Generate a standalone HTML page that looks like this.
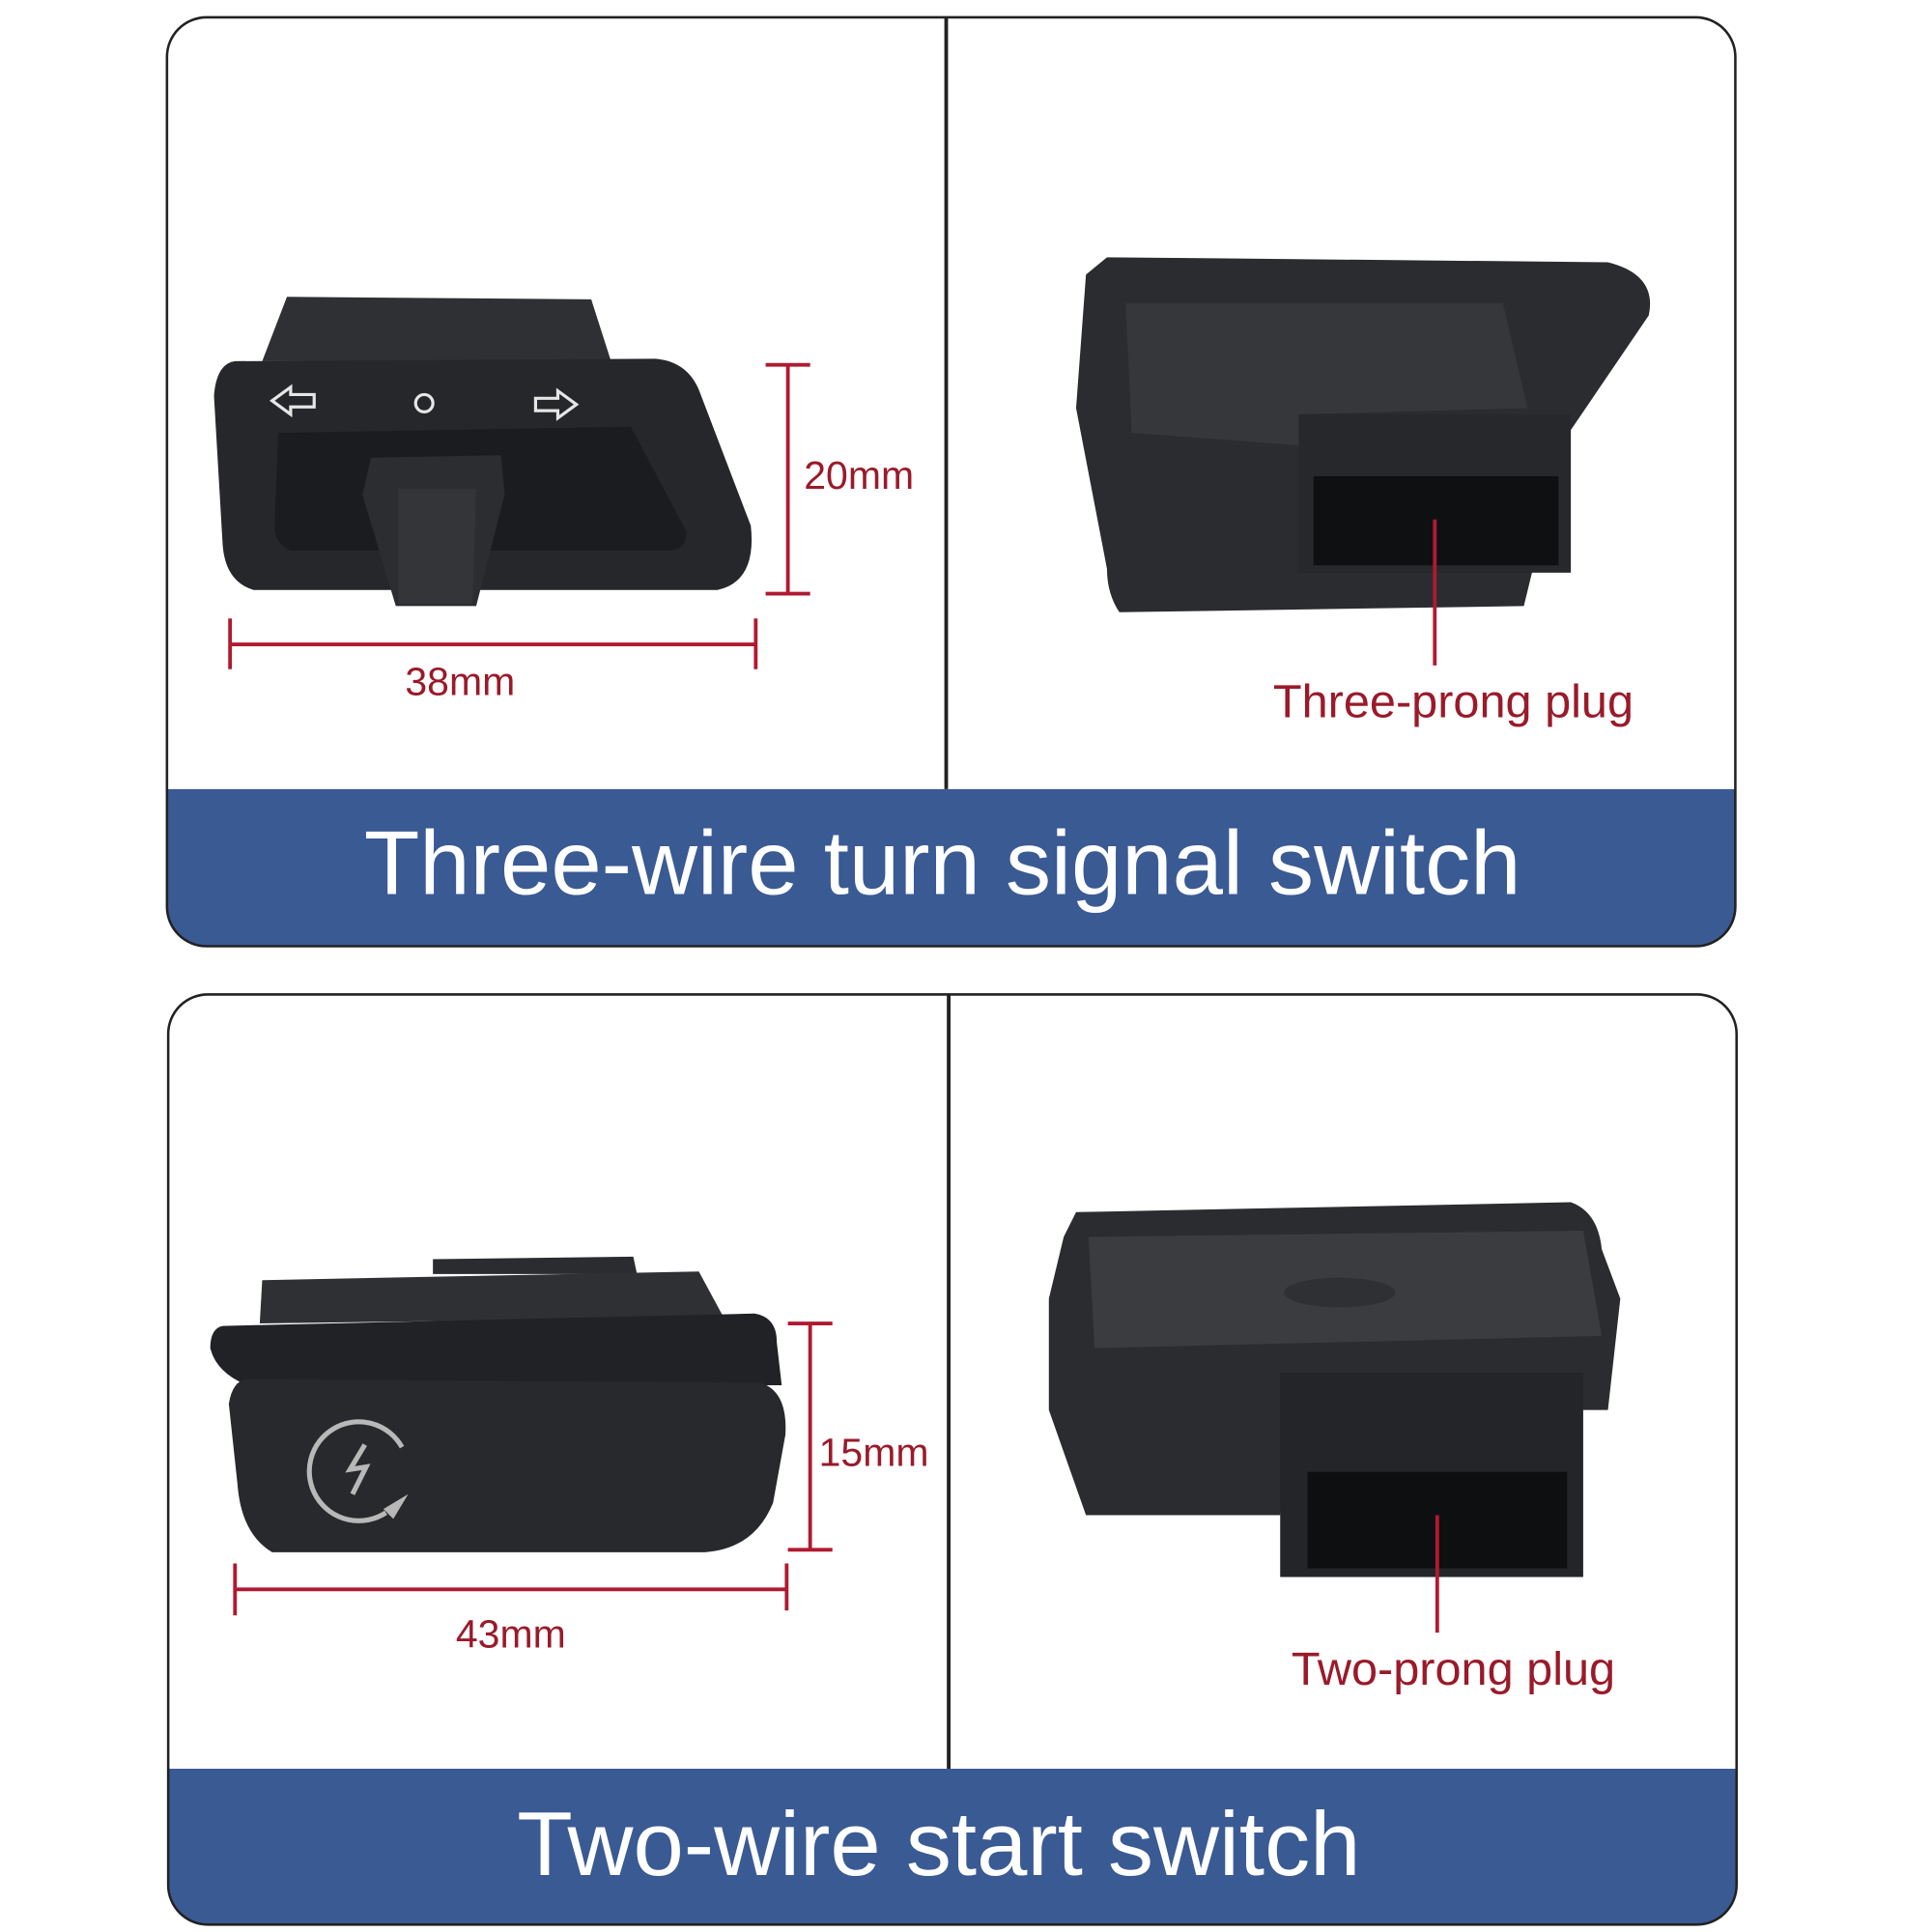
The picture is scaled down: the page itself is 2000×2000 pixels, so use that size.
<!DOCTYPE html>
<html><head><meta charset="utf-8"><style>
html,body{margin:0;padding:0;background:#fff;width:2000px;height:2000px;overflow:hidden}
svg{display:block}
text{font-family:"Liberation Sans",sans-serif}
</style></head><body>
<svg width="2000" height="2000" viewBox="0 0 1562 1562" xmlns="http://www.w3.org/2000/svg">
<rect width="1562" height="1562" fill="#fff"/>
<defs>
<clipPath id="c1"><rect x="135" y="14" width="1268" height="751" rx="32"/></clipPath>
<clipPath id="c2"><rect x="136" y="804" width="1268" height="752" rx="32"/></clipPath>
</defs>
<g clip-path="url(#c1)">
<rect x="135" y="638" width="1268" height="127" fill="#3a5a94"/>
</g>
<rect x="135" y="14" width="1268" height="751" rx="32" fill="none" stroke="#222" stroke-width="2"/>
<line x1="765" y1="14" x2="765" y2="638" stroke="#222" stroke-width="3"/>
<text x="762" y="723" font-size="73.5" fill="#fff" text-anchor="middle">Three-wire turn signal switch</text>
<g clip-path="url(#c2)">
<rect x="136" y="1430" width="1268" height="126" fill="#3a5a94"/>
</g>
<rect x="136" y="804" width="1268" height="752" rx="32" fill="none" stroke="#222" stroke-width="2"/>
<line x1="767" y1="804" x2="767" y2="1430" stroke="#222" stroke-width="3"/>
<text x="759" y="1516" font-size="73.5" fill="#fff" text-anchor="middle">Two-wire start switch</text>

<polygon points="232,240 478,242 494,292 212,292" fill="#2e3034"/>
<path d="M190,292 L530,290 Q555,292 565,315 L607,425 Q612,470 580,477 L205,477 Q182,470 180,440 L173,320 Q175,294 190,292 Z" fill="#25272b"/>
<path d="M225,350 L510,345 L555,430 Q555,445 540,445 L235,445 Q222,440 222,425 Z" fill="#1b1c1f"/>
<polygon points="300,370 405,368 408,400 385,490 320,490 293,400" fill="#2b2d31"/>
<polygon points="322,395 385,395 382,488 322,488" fill="#333539"/>
<g fill="none" stroke="#e6e6e6" stroke-width="2.5">
<path d="M220,324 L235,313 L235,319 L254,319 L254,329 L235,329 L235,335 Z"/>
<path d="M466,327 L451,316 L451,322 L433,322 L433,332 L451,332 L451,338 Z"/>
<circle cx="343" cy="326" r="7"/>
</g>
<path d="M895,208 L1300,212 Q1340,222 1333,255 L1265,355 L1232,490 L905,495 Q895,480 895,460 L870,330 L878,222 Z" fill="#2a2c30"/>
<polygon points="910,245 1215,245 1235,330 1050,335 1050,360 915,350" fill="#35373b"/>
<rect x="1050" y="335" width="220" height="128" fill="#26282b"/>
<rect x="1062" y="385" width="198" height="72" fill="#0f1012"/>
<g stroke="#b01a30" stroke-width="3">
<line x1="637" y1="295" x2="637" y2="480"/><line x1="619" y1="295" x2="655" y2="295"/><line x1="619" y1="480" x2="655" y2="480"/>
<line x1="186" y1="521" x2="611" y2="521"/><line x1="186" y1="500" x2="186" y2="541"/><line x1="611" y1="500" x2="611" y2="541"/>
<line x1="1160" y1="420" x2="1160" y2="538"/>
</g>
<g fill="#9a1a2a">
<text x="650" y="395" font-size="32">20mm</text>
<text x="372" y="562" font-size="32" text-anchor="middle">38mm</text>
<text x="1175" y="580" font-size="38" text-anchor="middle">Three-prong plug</text>
</g>

<polygon points="350,1018 512,1016 515,1030 350,1030" fill="#2a2c30"/>
<polygon points="212,1035 565,1028 585,1065 210,1070" fill="#2e3034"/>
<path d="M180,1072 L610,1062 Q628,1065 628,1085 L632,1120 L200,1120 Q175,1110 170,1090 Q170,1074 180,1072 Z" fill="#202226"/>
<path d="M200,1115 L615,1118 Q637,1125 635,1160 L625,1215 Q610,1252 570,1255 L220,1255 Q195,1240 192,1200 L185,1135 Q188,1116 200,1115 Z" fill="#28292d"/>
<g fill="none" stroke="#b8b8b8" stroke-width="4">
<path d="M312,1223 A40,40 0 1 1 325,1170"/>
<path d="M295,1168 L283,1188 L296,1186 L285,1208"/>
</g>
<polygon points="310,1220 330,1208 318,1228" fill="#b8b8b8"/>
<path d="M870,980 L1270,972 Q1292,980 1295,1010 L1310,1050 L1300,1140 L1040,1140 L1035,1225 L878,1225 L848,1140 L848,1050 L860,1000 Z" fill="#2a2c30"/>
<polygon points="880,1000 1280,995 1295,1080 885,1090" fill="#3a3c40"/>
<ellipse cx="1083" cy="1045" rx="45" ry="12" fill="#2e3034"/>
<rect x="1035" y="1110" width="245" height="165" fill="#232528"/>
<rect x="1057" y="1190" width="210" height="78" fill="#0e0f11"/>
<g stroke="#b01a30" stroke-width="3">
<line x1="655" y1="1070" x2="655" y2="1253"/><line x1="637" y1="1070" x2="673" y2="1070"/><line x1="637" y1="1253" x2="673" y2="1253"/>
<line x1="190" y1="1285" x2="636" y2="1285"/><line x1="190" y1="1264" x2="190" y2="1306"/><line x1="636" y1="1264" x2="636" y2="1302"/>
<line x1="1162" y1="1225" x2="1162" y2="1320"/>
</g>
<g fill="#9a1a2a">
<text x="662" y="1185" font-size="32">15mm</text>
<text x="413" y="1332" font-size="32" text-anchor="middle">43mm</text>
<text x="1175" y="1362" font-size="38" text-anchor="middle">Two-prong plug</text>
</g>
</svg>
</body></html>
